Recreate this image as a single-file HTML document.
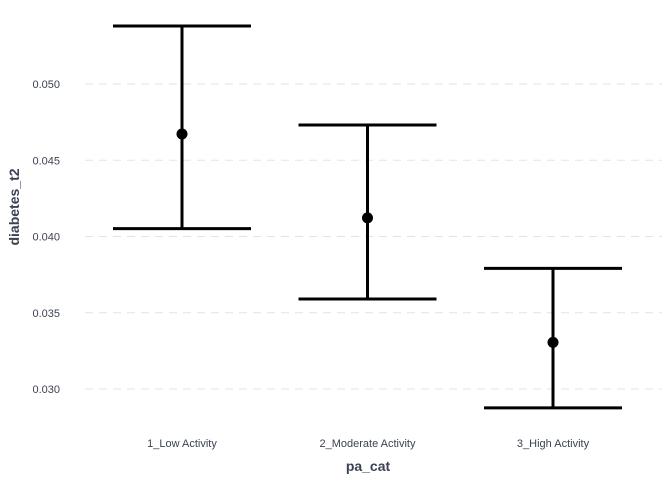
<!DOCTYPE html>
<html><head><meta charset="utf-8"><style>
html,body{margin:0;padding:0;background:#fff;}
svg{display:block;font-family:"Liberation Sans",Arial,sans-serif;}
</style></head><body>
<svg id="chart" width="672" height="480"></svg>
<script>
const categories = ["1_Low Activity", "2_Moderate Activity", "3_High Activity"];
const meanValues = [0.04672, 0.04122, 0.03306];
const upperValues = [0.0538, 0.04731, 0.03791];
const lowerValues = [0.04052, 0.0359, 0.02876];
const yTicks = [0.030, 0.035, 0.040, 0.045, 0.050];
const yTickLabels = ["0.030", "0.035", "0.040", "0.045", "0.050"];

const NS = "http://www.w3.org/2000/svg";
const svg = document.getElementById("chart");
const plotL = 85, plotR = 662;
function yScale(v){ return 84 + (0.050 - v) / 0.005 * 76.25; }
function xScale(i){ return 182 + i * 185.5; }
function mk(tag, attrs, parent){
  const e = document.createElementNS(NS, tag);
  for (const k in attrs) e.setAttribute(k, attrs[k]);
  (parent || svg).appendChild(e);
  return e;
}
// gridlines & y ticks
yTicks.forEach((t, i) => {
  const g = mk("line", {x1: plotL, x2: plotR, y1: yScale(t), y2: yScale(t), stroke: "#e3e3e3", "stroke-width": 1.1, "stroke-dasharray": "8,6"});
  
  
  const tx = mk("text", {x: 60, y: yScale(t) + 4, "text-anchor": "end", "font-size": 11, fill: "#3b4252"});
  tx.textContent = yTickLabels[i];
  
  
});
// series
categories.forEach((c, i) => {
  const x = xScale(i), hw = 69;
  const grp = mk("g", {});
  
  
  mk("line", {x1: x, x2: x, y1: yScale(upperValues[i]), y2: yScale(lowerValues[i]), stroke: "#000", "stroke-width": 3}, grp);
  mk("line", {x1: x - hw, x2: x + hw, y1: yScale(upperValues[i]), y2: yScale(upperValues[i]), stroke: "#000", "stroke-width": 3}, grp);
  mk("line", {x1: x - hw, x2: x + hw, y1: yScale(lowerValues[i]), y2: yScale(lowerValues[i]), stroke: "#000", "stroke-width": 3}, grp);
  const p = mk("circle", {cx: x, cy: yScale(meanValues[i]), r: 5.5, fill: "#000"});
  
  
  const tx = mk("text", {x: x, y: 447, "text-anchor": "middle", "font-size": 11, fill: "#3b4252"});
  tx.textContent = c;
  
  
});
const xt = mk("text", {x: 368, y: 471, "text-anchor": "middle", "font-size": 14, "font-weight": "bold", fill: "#3b4252"});
xt.textContent = "pa_cat";


const yt = mk("text", {x: 0, y: 0, "text-anchor": "middle", "font-size": 14, "font-weight": "bold", fill: "#3b4252", transform: "translate(19,207) rotate(-90)"});
yt.textContent = "diabetes_t2";


</script>
</body></html>
